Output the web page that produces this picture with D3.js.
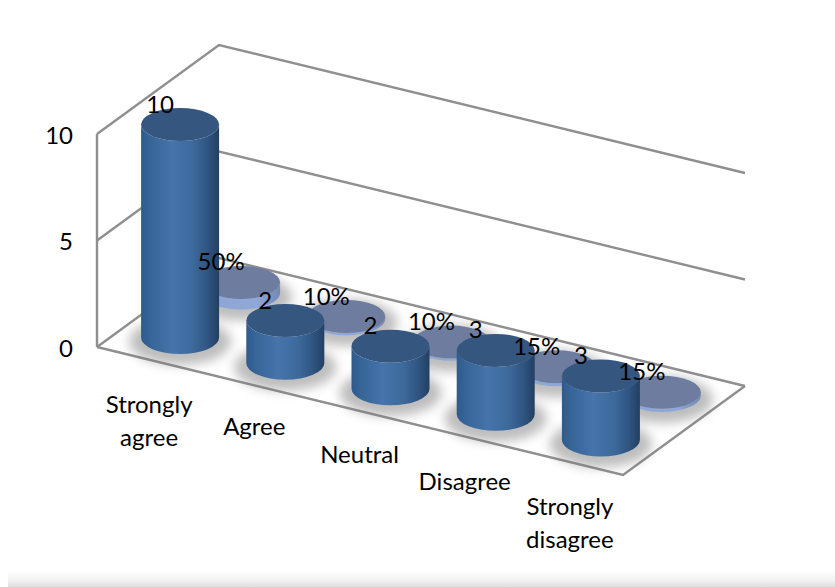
<!DOCTYPE html>
<html>
<head>
<meta charset="utf-8">
<script src="https://cdn.jsdelivr.net/npm/d3@7/dist/d3.min.js"></script>
<style>
  html, body { margin: 0; padding: 0; background: #fff; }
  svg { display: block; }
  text { font-family: Lato, "Open Sans", sans-serif; fill: #000; }
</style>
</head>
<body>
<div id="chart"></div>
<script>
const categories = [["Strongly", "agree"], ["Agree"], ["Neutral"], ["Disagree"], ["Strongly", "disagree"]];
const responseCounts = [10, 2, 2, 3, 3];
const responseShares = [50, 10, 10, 15, 15];
const valueTicks = [0, 5, 10];
const seriesNames = ["count", "share"];

const width = 835, height = 587;
const svg = d3.select("#chart").append("svg").attr("width", width).attr("height", height);
const defs = svg.append("defs");

// Oblique projection of the chart box: along the categories, into depth, and upwards.
const along = d3.scaleBand().domain(d3.range(categories.length)).range([0, 1]);
const depth = d3.scaleBand().domain(seriesNames).range([0, 1]);
const rise = d3.scaleLinear().domain([0, 10]).range([0, 213]);
const origin = { x: 97, y: 347 };
const alongVec = { x: 526, y: 128 };
const depthVec = { x: 122, y: -89 };
const project = (u, d, v) => ({
  x: origin.x + u * alongVec.x + d * depthVec.x,
  y: origin.y + u * alongVec.y + d * depthVec.y - rise(v)
});
const centerAlong = i => along(i) + along.bandwidth() / 2;
const centerDepth = s => depth(s) + depth.bandwidth() / 2;

const radius = { x: 39, y: 16.5 };

// Cylinder side shading
const sideGradient = defs.append("linearGradient").attr("id", "side");
[[0, "#2f5a8e"], [0.12, "#376597"], [0.4, "#4674ab"], [0.66, "#3d6a9c"], [0.86, "#2f5480"], [1, "#233f62"]]
  .forEach(([o, c]) => sideGradient.append("stop").attr("offset", o).attr("stop-color", c));
const discGradient = defs.append("linearGradient").attr("id", "discSide");
[[0, "#8ea6d6"], [0.7, "#90a8d8"], [1, "#7288b4"]]
  .forEach(([o, c]) => discGradient.append("stop").attr("offset", o).attr("stop-color", c));
defs.append("filter").attr("id", "soft").attr("x", "-40%").attr("y", "-60%").attr("width", "180%").attr("height", "220%")
  .append("feGaussianBlur").attr("stdDeviation", 5.5);
const bandGradient = defs.append("linearGradient").attr("id", "band").attr("x2", 0).attr("y2", 1);
[[0, "#ffffff"], [0.55, "#f4f4f4"], [1, "#dedede"]]
  .forEach(([o, c]) => bandGradient.append("stop").attr("offset", o).attr("stop-color", c));

// Thin shaded strip along the lower edge of the page
svg.append("rect").attr("x", 8).attr("y", 570).attr("width", width - 8).attr("height", 17).attr("fill", "url(#band)");

// Walls and floor outlines
const line = d3.line().x(p => p.x).y(p => p.y);
const frame = svg.append("g").attr("fill", "none").attr("stroke", "#8f8f8f").attr("stroke-width", 2.4).attr("stroke-linejoin", "miter");
valueTicks.forEach(t => {
  const pts = [project(0, 0, t), project(0, 1, t), project(1, 1, t)];
  frame.append("path").attr("d", line(pts));
});
frame.append("path").attr("d", line([project(0, 0, 0), project(1, 0, 0), project(1, 1, 0)]));
frame.append("path").attr("d", line([project(0, 0, 0), project(0, 0, 10)]));

const cylinderPath = (cx, yTop, yBase) =>
  `M${cx - radius.x},${yTop}L${cx - radius.x},${yBase}` +
  `A${radius.x},${radius.y} 0 0 0 ${cx + radius.x},${yBase}` +
  `L${cx + radius.x},${yTop}A${radius.x},${radius.y} 0 0 1 ${cx - radius.x},${yTop}Z`;

function drawSeries(values, toValue, name, sideFill, topFill) {
  const group = svg.append("g").attr("class", "series-" + name);
  const anchor = (i, v) => project(centerAlong(i), centerDepth(name), v);
  // Contact shadows first, so no shadow covers a neighbouring mark
  group.selectAll("ellipse.shadow").data(values).join("ellipse")
    .attr("class", "shadow")
    .attr("cx", (d, i) => anchor(i, 0).x)
    .attr("cy", (d, i) => anchor(i, 0).y + 4)
    .attr("rx", radius.x + 12).attr("ry", radius.y + 7)
    .attr("fill", "#707070").attr("opacity", 0.46)
    .attr("filter", "url(#soft)");
  group.selectAll("path.side").data(values).join("path")
    .attr("class", "side")
    .attr("d", (d, i) => cylinderPath(anchor(i, 0).x, anchor(i, toValue(d)).y, anchor(i, 0).y))
    .attr("fill", sideFill);
  group.selectAll("ellipse.top").data(values).join("ellipse")
    .attr("class", "top")
    .attr("cx", (d, i) => anchor(i, 0).x)
    .attr("cy", (d, i) => anchor(i, toValue(d)).y)
    .attr("rx", radius.x).attr("ry", radius.y)
    .attr("fill", topFill);
}

// Back row first, front row over it
drawSeries(responseShares, d => d / 100, "share", "url(#discSide)", "#6e7d9f");
drawSeries(responseCounts, d => d, "count", "url(#side)", "#34567f");

// Value axis labels
const fontSize = 24;
const axisScale = d3.scaleLinear().domain([0, 10]).range([origin.y, origin.y - rise(10)]);
const axis = svg.append("g").attr("transform", `translate(${origin.x - 24},1)`)
  .call(d3.axisLeft(axisScale).tickValues(valueTicks).tickSize(0).tickPadding(0));
axis.select(".domain").remove();
axis.selectAll("text").attr("font-size", fontSize).attr("style", "font-family:Lato").attr("dy", "0.35em");

// Category labels under the front edge of the floor
const catLabels = svg.append("g").attr("text-anchor", "middle").attr("font-size", fontSize);
const labelLift = [0, 3, 1, 0, 0];
categories.forEach((lines, i) => {
  const p = project(centerAlong(i), 0, 0);
  const label = catLabels.append("text").attr("x", p.x - 0.5).attr("y", p.y + 53 - labelLift[i]);
  lines.forEach((s, k) => label.append("tspan").attr("x", p.x - 0.5).attr("dy", k ? 33 : 0).text(s));
});

// Data labels, written last so they sit on top of the marks
const dataLabels = svg.append("g").attr("text-anchor", "middle").attr("font-size", fontSize);
const placeLabel = (name, value, text, i) => {
  const p = project(centerAlong(i), centerDepth(name), value);
  dataLabels.append("text").attr("x", p.x - 20).attr("y", p.y - 12).text(text);
};
responseCounts.forEach((d, i) => placeLabel("count", d, String(d), i));
responseShares.forEach((d, i) => placeLabel("share", d / 100, d + "%", i));
</script>
</body>
</html>
